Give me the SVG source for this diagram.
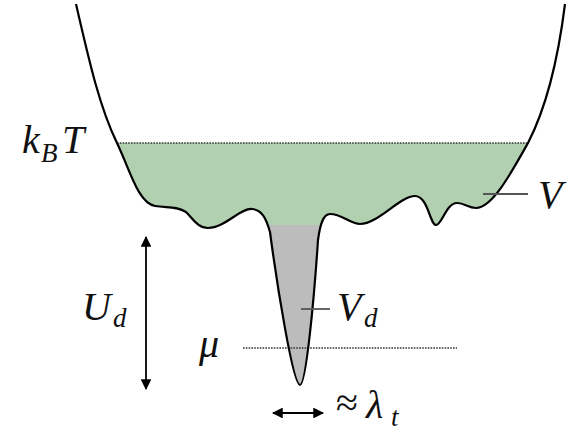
<svg xmlns="http://www.w3.org/2000/svg" width="585" height="433" viewBox="0 0 585 433">
<style>
.m{font-family:"Liberation Serif","DejaVu Serif",serif;font-style:italic;fill:#111;font-size:40px}
.s{font-size:27px}
.r{font-family:"Liberation Serif","DejaVu Serif",serif;fill:#111;font-size:40px}
.dot{stroke:#333;stroke-width:1.4;stroke-dasharray:1.6 1.2;fill:none}
.tick{stroke:#555;stroke-width:1.8}
.ar{stroke:#000;stroke-width:1.8;fill:none}
</style>
<defs>
<path id="curve" d="M76,4 C90,65 100,108 117,143 C130,170 138,203 155,206 C168,208 176,206 186,212 C194,220 198,228 208,228 C225,228 240,208 252,209 C262,210 266,218 270,232 C277,285 293,385 300,385 C306,385 314,300 318,240 C320,225 323,214 330,214 C342,214 350,224 360,224 C378,224 400,196 415,196 C428,196 430,225 436,225 C442,225 446,203 457,203 C465,203 468,208 476,208 C492,208 510,175 528,143 C545,110 558,60 565,4"/>
<clipPath id="well"><use href="#curve"/></clipPath>
<marker id="ah" viewBox="0 0 10 10" refX="9" refY="5" markerWidth="6.5" markerHeight="6" orient="auto-start-reverse" markerUnits="strokeWidth"><path d="M0,0 L10,5 L0,10 z" fill="#000"/></marker>
</defs>
<g id="fills" clip-path="url(#well)">
<rect x="80" y="143" width="480" height="92" fill="#b0d0b0"/>
<rect x="260" y="225" width="70" height="170" fill="#bcbcbc"/>
</g>
<g id="levels">
<line class="dot" x1="117" y1="143" x2="528" y2="143"/>
<line class="dot" x1="243" y1="348" x2="457" y2="348"/>
</g>
<g id="potential">
<use href="#curve" fill="none" stroke="#000" stroke-width="2.2"/>
</g>
<g id="connectors">
<line class="tick" x1="483" y1="194" x2="528" y2="194"/>
<line class="tick" x1="301" y1="309" x2="330" y2="309"/>
<line class="ar" x1="146" y1="237" x2="146" y2="389" marker-start="url(#ah)" marker-end="url(#ah)"/>
<line class="ar" x1="273" y1="413" x2="323" y2="413" marker-start="url(#ah)" marker-end="url(#ah)"/>
</g>
<g id="labels">
<text class="m" x="22" y="153">k<tspan class="s" x="41" y="162">B</tspan><tspan x="62" y="153">T</tspan></text>
<text class="m" x="538" y="208" font-size="42">V</text>
<text class="m" x="82" y="320" font-size="42">U<tspan class="s" x="113" y="327">d</tspan></text>
<text class="m" x="199" y="357" font-size="46">μ</text>
<text class="m" x="337" y="320">V<tspan class="s" x="364" y="327">d</tspan></text>
<text class="r" x="336" y="416">≈</text>
<text class="m" x="366" y="418" font-size="42">λ<tspan class="s" x="391" y="426">t</tspan></text>
</g>
</svg>
